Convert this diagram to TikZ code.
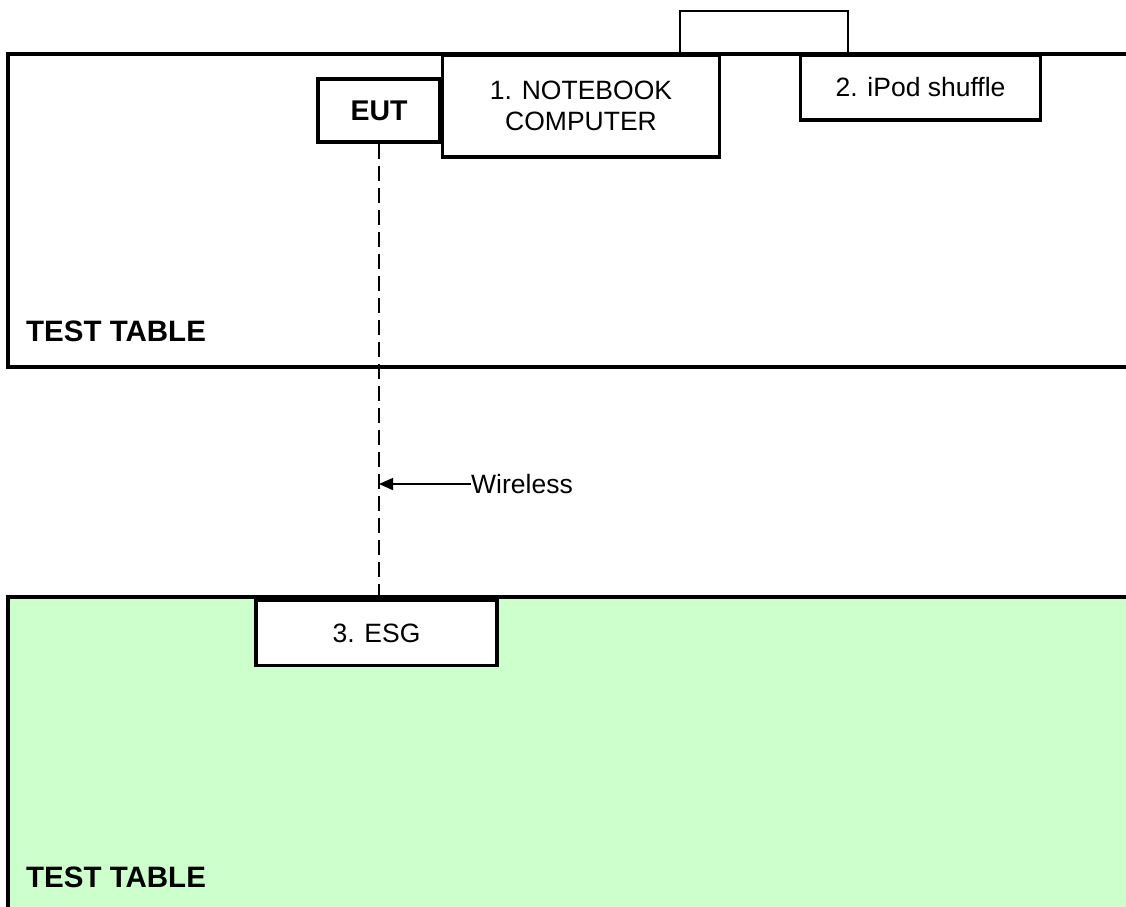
\documentclass[tikz,border=0pt]{standalone}
\usepackage{fontspec}
\setmainfont{Liberation Sans}
\usetikzlibrary{arrows.meta}
\definecolor{tablegreen}{HTML}{CCFFCC}
\tikzset{
  thickline/.style={line width=3.5pt},
  boxstyle/.style={draw, line width=3.5pt, fill=white, inner sep=0pt, align=center,
    font=\fontsize{26.5}{31}\selectfont},
  boldlabel/.style={inner sep=0pt, font=\fontsize{29.5}{33}\selectfont\bfseries},
  cable/.style={line width=1.5pt},
  wirelessline/.style={line width=1.8pt, dash pattern=on 15pt off 7pt},
}
\begin{document}
\begin{tikzpicture}[x=1pt, y=-1pt]
\useasboundingbox (0,0) rectangle (1126,906);
% top test table (open to the right)
\draw[thickline] (1130,54) -- (8,54) -- (8,367) -- (1130,367);
% bottom test table (green)
\fill[tablegreen] (8,597) rectangle (1130,910);
\draw[thickline] (1130,597) -- (8,597) -- (8,910);
% devices
\node[boxstyle, minimum width=122pt, minimum height=63pt, font=\fontsize{28.5}{32}\selectfont\bfseries] (eut) at (379,110.5) {EUT};
\node[boxstyle, minimum width=277pt, minimum height=102pt] (nb) at (581,106) {1. NOTEBOOK\\COMPUTER};
\node[boxstyle, minimum width=240pt, minimum height=65pt] (ipod) at (920.5,87.5) {2. iPod shuffle};
\node[boxstyle, minimum width=241pt, minimum height=65pt] (esg) at (376.5,633) {3. ESG};
% table labels
\node[boldlabel, anchor=base west] (tt1) at (26,341) {TEST TABLE};
\node[boldlabel, anchor=base west] (tt2) at (26,887) {TEST TABLE};
% cable between notebook and iPod
\coordinate (c1) at (680,54);
\coordinate (c2) at (848,54);
\draw[cable] (c1) -- ++(0,-43) -| (c2);
% wireless link
\coordinate (tabletop) at (379,597);
\draw[wirelessline] (eut.south) -- (tabletop);
\node[inner sep=0pt, anchor=west, font=\fontsize{26.5}{31}\selectfont] (wl) at (471,484) {Wireless};
\draw[line width=1.5pt, -{Triangle[length=14pt, width=12pt]}] (wl.west) -- (wl.west -| eut.south);
\end{tikzpicture}
\end{document}
